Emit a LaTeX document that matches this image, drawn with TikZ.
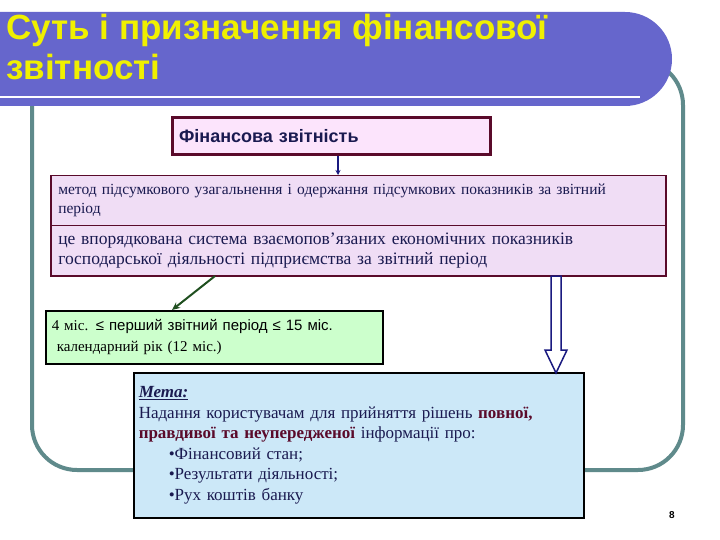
\documentclass[tikz,border=0pt]{standalone}
\usepackage{fontspec}
\setmainfont{Liberation Serif}
\setsansfont{Liberation Sans}
\usetikzlibrary{arrows.meta}
\definecolor{frame}{HTML}{5F8A8B}
\definecolor{banner}{HTML}{6666CC}
\definecolor{ttl}{HTML}{F0F000}
\definecolor{maroon}{HTML}{5A0A2A}
\definecolor{pinkf}{HTML}{FCE4FC}
\definecolor{lav}{HTML}{F0DDF5}
\definecolor{greenf}{HTML}{CCFFCC}
\definecolor{bluef}{HTML}{CCE8F8}
\definecolor{darkblue}{HTML}{1A1A80}
\definecolor{darkgreen}{HTML}{1F4F1F}
\definecolor{navy}{HTML}{1A1A50}
\tikzset{
  lavbox/.style={draw=maroon,line width=1.5pt,fill=lav,anchor=north west,minimum width=615pt,inner sep=4pt,align=left,text width=600pt},
}
\begin{document}
\begin{tikzpicture}[x=1pt,y=-1pt]
\useasboundingbox (0,0) rectangle (720,540);
\fill[white] (0,0) rectangle (720,540);
% frame
\draw[frame,line width=4pt,rounded corners=45pt] (32,60) rectangle (683,470);
% banner
\fill[banner] (0,12) -- (625,12) arc[start angle=-90,end angle=90,radius=47] -- (0,106) -- cycle;
\draw[white,line width=2pt] (0,97) -- (640,97);
\node[anchor=north west,text=ttl,font=\sffamily\bfseries\fontsize{35}{40}\selectfont,align=left,inner sep=0pt] (title) at (6,14) {Суть і призначення фінансової\\звітності};
% top box
\node[draw=maroon,line width=3pt,fill=pinkf,anchor=north west,minimum width=318pt,minimum height=37pt,text width=305pt,align=left,font=\sffamily\bfseries\fontsize{18}{20}\selectfont,text=navy] (fs) at (171,116) {Фінансова звітність};
% lav boxes
\node[lavbox,minimum height=50pt,font=\fontsize{15.5}{19}\selectfont,text=navy] (b1) at (50,175) {метод підсумкового узагальнення і одержання підсумкових показників за звітний\\період};
\node[lavbox,minimum height=50pt,font=\fontsize{17.5}{20}\selectfont,text=navy] (b2) at (50,225) {це впорядкована система взаємопов’язаних економічних показників\\господарської діяльності підприємства за звітний період};
\draw[darkblue,line width=2pt,-{Stealth[length=5pt,width=5pt]}] (fs.south -| 338,0) -- (b1.north -| 338,0);
% green box
\node[draw=black,line width=1.5pt,fill=greenf,anchor=north west,minimum width=337pt,minimum height=53pt,text width=325pt,align=left,font=\fontsize{15}{21}\selectfont] (g) at (45,310) {4 міс. {\sffamily ≤ перший звітний період ≤ 15 міс.}\\\ календарний рік (12 міс.)};
\coordinate (gs) at (215,276);
\draw[darkgreen,line width=2pt,-{Stealth[length=8pt,width=7pt]}] (gs) -- (172,310);
% blue box
\node[draw=black,line width=1.5pt,fill=bluef,anchor=north west,minimum width=450pt,minimum height=145pt,text width=440pt,align=left,font=\fontsize{17}{20.5}\selectfont,text=navy,inner sep=4pt] (m) at (133,372) {\textbf{\textit{\underline{Мета:}}}\\Надання користувачам для прийняття рішень \textbf{\textcolor{maroon}{повної,}}\\\textbf{\textcolor{maroon}{правдивої та неупередженої}} інформації про:\\\hspace*{30pt}•Фінансовий стан;\\\hspace*{30pt}•Результати діяльності;\\\hspace*{30pt}•Рух коштів банку};
% hollow arrow
\draw[darkblue,line width=1.5pt,fill=white] (551,276) -- (561,276) -- (561,350) -- (567,350) -- (556,373) -- (545,350) -- (551,350) -- cycle;
\node[font=\sffamily\bfseries\fontsize{10}{12}\selectfont] (pg) at (672,515) {8};
\end{tikzpicture}
\end{document}
